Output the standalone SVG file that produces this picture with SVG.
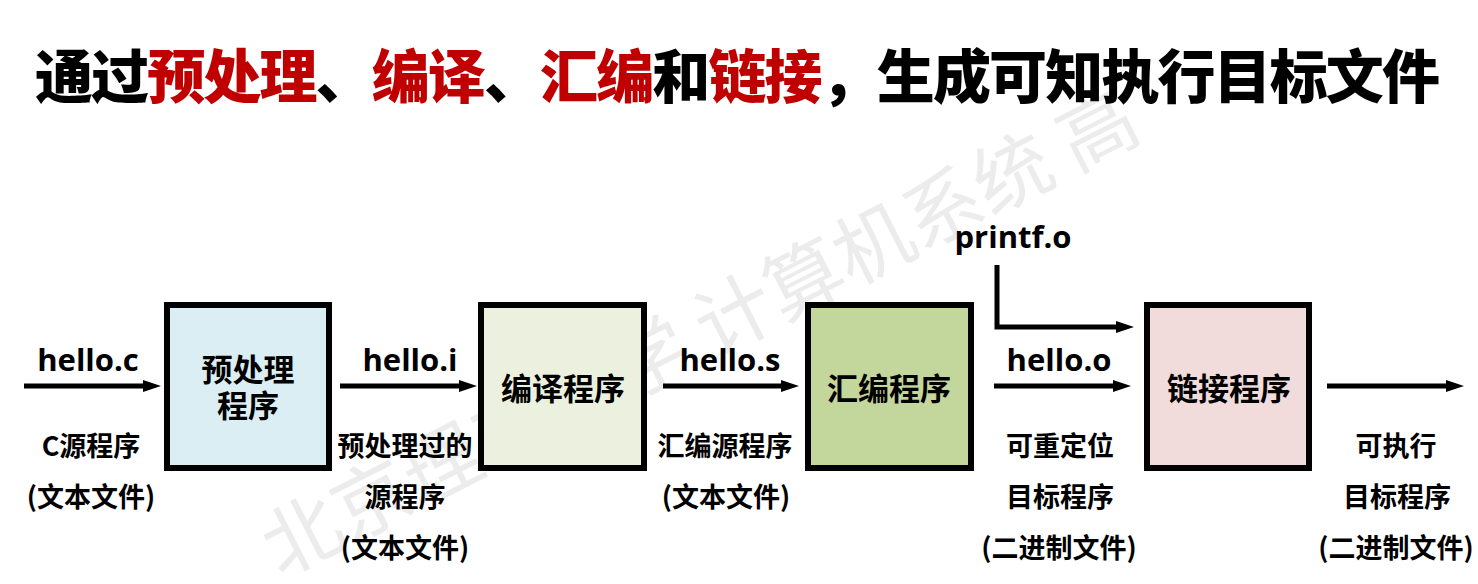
<svg xmlns="http://www.w3.org/2000/svg" width="1478" height="584" viewBox="0 0 1478 584">
<style>
.title{font-family:"Noto Sans CJK SC","Noto Sans",sans-serif;font-weight:900;font-size:58px;fill:#000}
.red{fill:#c00000}
.wm{font-family:"Noto Sans CJK SC",sans-serif;font-size:78px;fill:#ececec}
.box{stroke:#000;stroke-width:6}
.bl{font-family:"Noto Sans CJK SC",sans-serif;font-weight:700;font-size:31px;fill:#000;text-anchor:middle}
.fn{font-family:"Open Sans","Liberation Sans",sans-serif;font-weight:700;font-size:31px;fill:#000;text-anchor:middle}
.cap{font-family:"Noto Sans CJK SC",sans-serif;font-weight:700;font-size:27px;fill:#000;text-anchor:middle}
.arr{fill:none;stroke:#000;stroke-width:5;marker-end:url(#ah)}
</style>
<defs>
<marker id="ah" markerUnits="userSpaceOnUse" markerWidth="20" markerHeight="14" refX="1" refY="6" orient="auto">
<path d="M0,0 L18,6 L0,12 z" fill="#000"/>
</marker>
</defs>
<rect width="1478" height="584" fill="#fff"/>
<text class="wm" transform="translate(280,578) rotate(-27)">北京理工大学 计算机系统 高</text>
<text class="title" x="35" y="98" textLength="1405" lengthAdjust="spacing">通过<tspan class="red">预处理</tspan>、<tspan class="red">编译</tspan>、<tspan class="red">汇编</tspan>和<tspan class="red">链接</tspan>，生成可知执行目标文件</text>
<g id="connectors">
<line class="arr" x1="24" y1="386" x2="144" y2="386"/>
<line class="arr" x1="340" y1="386" x2="460" y2="386"/>
<line class="arr" x1="663" y1="386" x2="782" y2="386"/>
<line class="arr" x1="994" y1="386" x2="1114" y2="386"/>
<path class="arr" d="M997,265 V327 H1117"/>
<line class="arr" x1="1327" y1="386" x2="1447" y2="386"/>
</g>
<g id="n-pre">
<rect class="box" x="167" y="305" width="162" height="163" fill="#daeef3"/>
<text class="bl" x="248" y="381">预处理</text>
<text class="bl" x="248" y="417">程序</text>
</g>
<g id="n-comp">
<rect class="box" x="481" y="305" width="163" height="163" fill="#ebf1de"/>
<text class="bl" x="563" y="400">编译程序</text>
</g>
<g id="n-asm">
<rect class="box" x="808" y="305" width="163" height="163" fill="#c3d69b"/>
<text class="bl" x="889" y="400">汇编程序</text>
</g>
<g id="n-link">
<rect class="box" x="1147" y="305" width="162" height="163" fill="#f2dcdb"/>
<text class="bl" x="1229" y="400">链接程序</text>
</g>
<g id="labels">
<text class="fn" x="88" y="371">hello.c</text>
<text class="fn" x="410" y="371">hello.i</text>
<text class="fn" x="730" y="371">hello.s</text>
<text class="fn" x="1059" y="371">hello.o</text>
<text class="fn" x="1013" y="248">printf.o</text>
<text class="cap" x="91" y="456">C源程序</text>
<text class="cap" x="91" y="507">(文本文件)</text>
<text class="cap" x="405" y="456">预处理过的</text>
<text class="cap" x="405" y="507">源程序</text>
<text class="cap" x="405" y="558">(文本文件)</text>
<text class="cap" x="725" y="456">汇编源程序</text>
<text class="cap" x="726" y="507">(文本文件)</text>
<text class="cap" x="1060" y="456">可重定位</text>
<text class="cap" x="1060" y="507">目标程序</text>
<text class="cap" x="1059" y="558">(二进制文件)</text>
<text class="cap" x="1396" y="456">可执行</text>
<text class="cap" x="1397" y="507">目标程序</text>
<text class="cap" x="1396" y="558">(二进制文件)</text>
</g>
</svg>
